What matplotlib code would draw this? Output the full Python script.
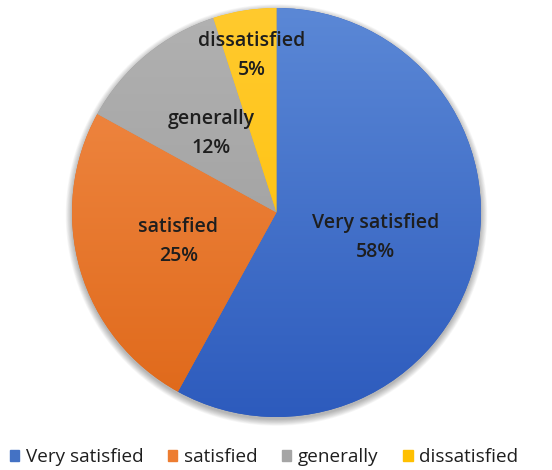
import numpy as np
import matplotlib.pyplot as plt
from matplotlib.colors import LinearSegmentedColormap
from matplotlib.patches import Circle

# data
categories = ["Very satisfied", "satisfied", "generally", "dissatisfied"]
shares = [58, 25, 12, 5]

# style
top_colors = ["#5b88d6", "#f28d4a", "#b1b1b1", "#ffca2e"]
bottom_colors = ["#2d5bbd", "#df6819", "#999999", "#ffbf00"]
legend_colors = ["#4472c4", "#ed7d31", "#a5a5a5", "#ffc000"]
label_dist = [0.5, 0.5, 0.5, 0.775]

plt.rcParams['font.family'] = ['Open Sans', 'DejaVu Sans']

fig = plt.figure(figsize=(5.52, 4.70), dpi=100)
ax = fig.add_axes([0, 0, 1, 1])

cx, cy, R = 276.5, 470 - 212.5, 204.5

# soft shadow around the pie
for i in range(10):
    ax.add_patch(Circle((cx, cy - 2.5), R + i * 0.7, color='black',
                        alpha=0.03, lw=0, zorder=0))

wedges, _ = ax.pie(shares, startangle=90, counterclock=False,
                   radius=R, center=(cx, cy), frame=True,
                   wedgeprops=dict(linewidth=0))
ax.set_aspect('equal')
ax.axis('off')

grad = np.linspace(0, 1, 256).reshape(-1, 1)
for w, c0, c1 in zip(wedges, top_colors, bottom_colors):
    w.set_facecolor(c1)
    cmap = LinearSegmentedColormap.from_list('g', [c1, c0])
    im = ax.imshow(grad, cmap=cmap, origin='lower', aspect='auto',
                   extent=(cx - R, cx + R, cy - R, cy + R), zorder=2,
                   interpolation='bilinear')
    im.set_clip_path(w)
ax.set_xlim(0, 552)
ax.set_ylim(0, 470)

# labels
total = sum(shares)
start = 90.0
for name, v, d in zip(categories, shares, label_dist):
    mid = np.deg2rad(start - 360 * v / total / 2)
    start -= 360 * v / total
    x = cx + d * R * np.cos(mid)
    y = cy + d * R * np.sin(mid)
    ax.text(x, y, f"{name}\n{v}%", ha='center', va='center',
            fontsize=14, fontweight='semibold', color='#1e1e1e',
            linespacing=1.6, zorder=5)

handles = [plt.Rectangle((0, 0), 1, 1, color=c) for c in legend_colors]
ax.legend(handles, categories, loc='center', ncol=4, frameon=False,
          bbox_to_anchor=(264 / 552, 13 / 470), fontsize=13.6,
          handlelength=0.5, handleheight=0.5, handletextpad=0.35,
          columnspacing=1.3, labelcolor='#1e1e1e')

fig.savefig('out.png', dpi=100, facecolor='white')
